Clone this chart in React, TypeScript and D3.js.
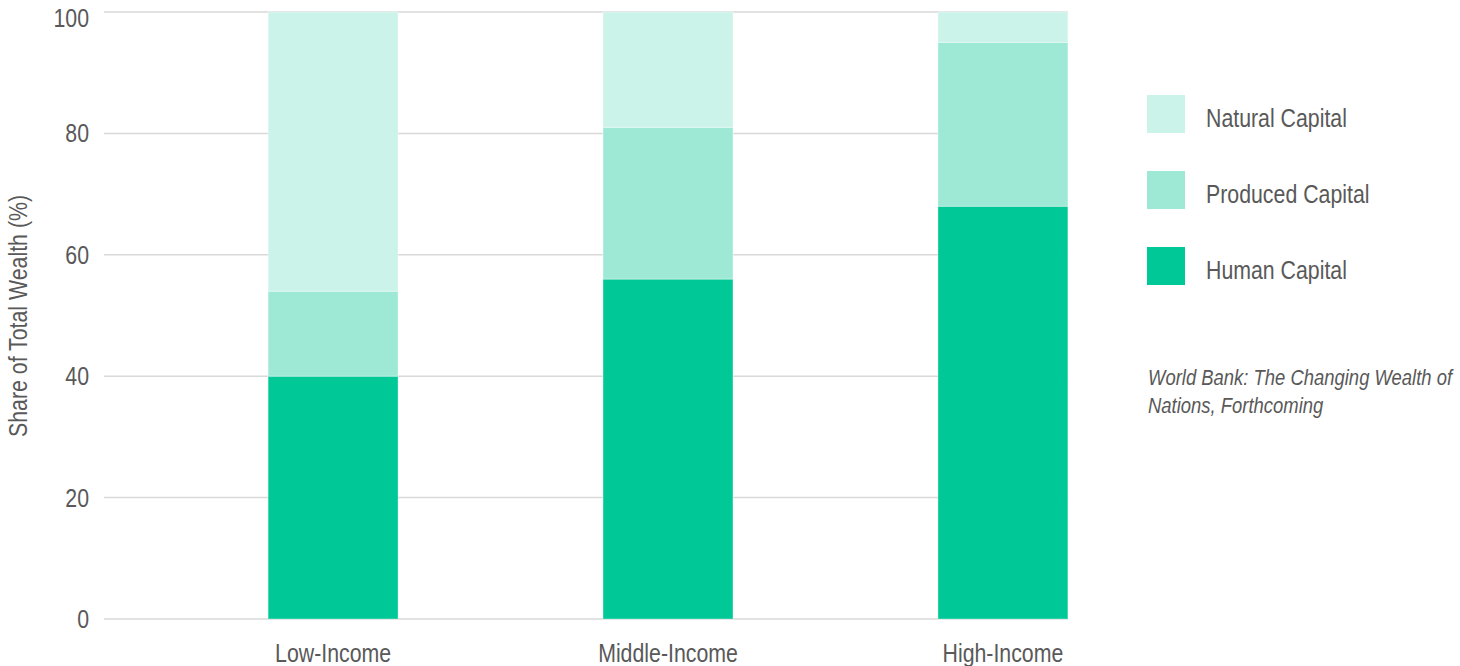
import React, { useEffect } from "react";
import * as d3 from "d3";

const categories = ["Low-Income", "Middle-Income", "High-Income"];
const humanCapital = [40, 56, 68];
const producedCapital = [14, 25, 27];
const naturalCapital = [46, 19, 5];
const yTicks = [0, 20, 40, 60, 80, 100];
const seriesKeys = ["human", "produced", "natural"];
const seriesLabels = ["Human Capital", "Produced Capital", "Natural Capital"];
const seriesColors = ["#00C896", "#9DE9D5", "#CCF3EA"];
const yAxisTitle = "Share of Total Wealth (%)";
const sourceLines = ["World Bank: The Changing Wealth of", "Nations, Forthcoming"];

const W = 1460;
const H = 666;
const FONT = "'Liberation Sans', Arial, sans-serif";
const TEXT = "#595959";
const NARROW = 0.82;

function T({ x, y, rotate = 0, anchor = "start", size = 26, italic = false, children }: any) {
  return (
    <text
      transform={`translate(${x},${y}) rotate(${rotate}) scale(${NARROW},1)`}
      textAnchor={anchor}
      fontSize={size}
      fontStyle={italic ? "italic" : "normal"}
      fill={TEXT}
    >
      {children}
    </text>
  );
}

export default function App() {
  useEffect(() => {
    document.body.style.margin = "0";
  }, []);

  const rows = categories.map((c, i) => ({
    cat: c,
    human: humanCapital[i],
    produced: producedCapital[i],
    natural: naturalCapital[i],
  }));
  const stacked = d3.stack<any>().keys(seriesKeys)(rows);

  const y = d3.scaleLinear().domain([0, 100]).range([619, 12]);
  const x = d3
    .scaleBand()
    .domain(categories)
    .range([104, 1232])
    .paddingInner(0.612)
    .paddingOuter(0.49);
  const bw = x.bandwidth();
  const gridX0 = 104;
  const gridX1 = (x(categories[categories.length - 1]) as number) + bw;

  const legendOrder = [2, 1, 0];

  return (
    <svg width={W} height={H} style={{ display: "block" }} fontFamily={FONT}>
      <rect width={W} height={H} fill="#fff" />
      {yTicks.map((t) => (
        <g key={t}>
          <line x1={gridX0} x2={gridX1} y1={y(t)} y2={y(t)} stroke="#d9d9d9" strokeWidth={1.5} />
          <T x={89} y={Math.max(y(t) + 9, 27)} anchor="end">
            {t}
          </T>
        </g>
      ))}
      {stacked.map((s, si) => (
        <g key={s.key}>
          {s.map((d, i) => (
            <rect
              key={i}
              x={x(categories[i])}
              y={y(d[1])}
              width={bw}
              height={y(d[0]) - y(d[1])}
              fill={seriesColors[si]}
              stroke="rgba(255,255,255,0.35)"
              strokeWidth={1}
            />
          ))}
        </g>
      ))}
      {categories.map((c) => (
        <T key={c} x={(x(c) as number) + bw / 2} y={662} anchor="middle">
          {c}
        </T>
      ))}
      <T x={27} y={316} rotate={-90} anchor="middle">
        {yAxisTitle}
      </T>
      {legendOrder.map((si, k) => (
        <g key={si} transform={`translate(1147,${95 + k * 76})`}>
          <rect width={38} height={38} fill={seriesColors[si]} />
          <T x={59} y={32}>
            {seriesLabels[si]}
          </T>
        </g>
      ))}
      {sourceLines.map((l, i) => (
        <T key={i} x={1148} y={385 + i * 28} size={22.5} italic>
          {l}
        </T>
      ))}
    </svg>
  );
}
